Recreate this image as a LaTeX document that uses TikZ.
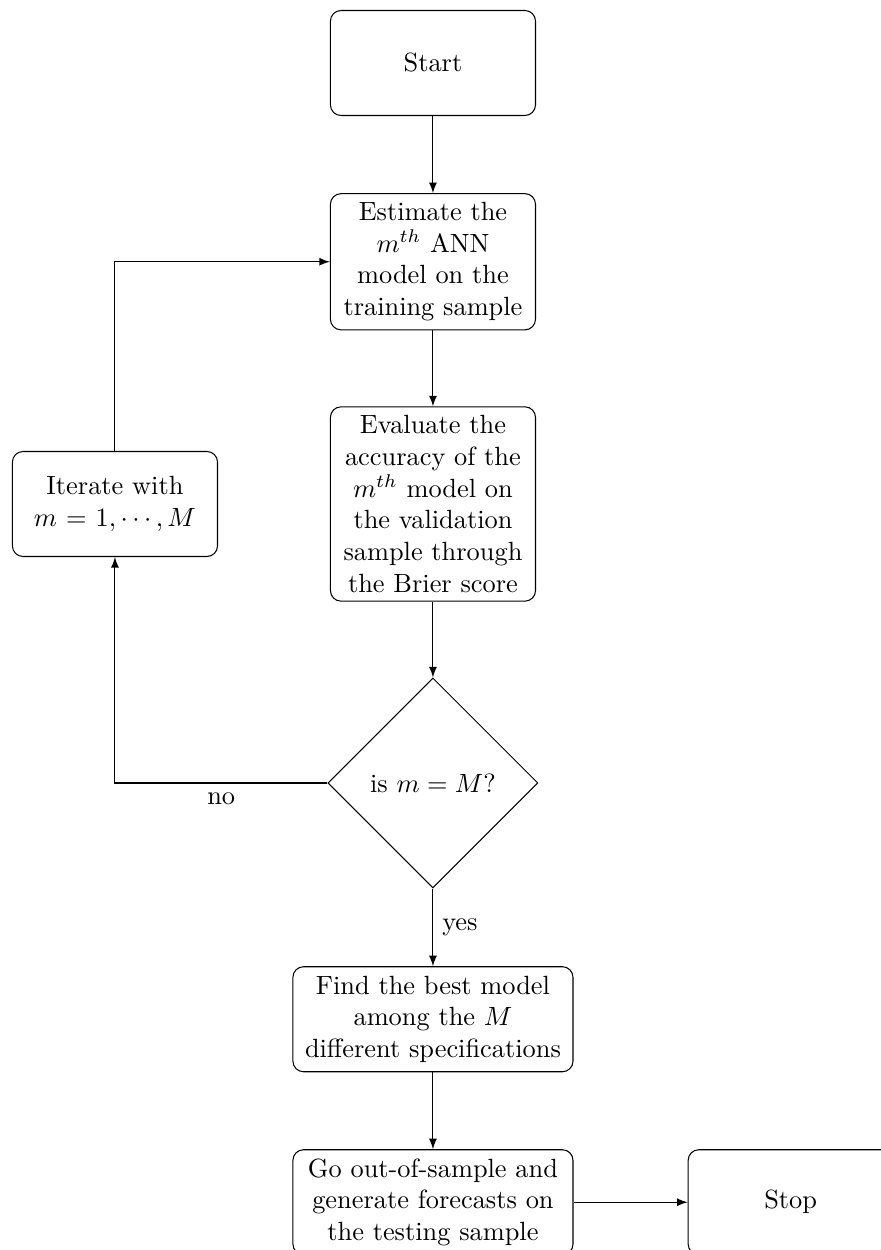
\documentclass[tikz,border=0pt]{standalone}
\usetikzlibrary{shapes.geometric}
\tikzset{
  bloque/.style={rectangle,rounded corners,draw,text width=2.5cm,minimum height=1.4cm,align=center},
  bloqueancho/.style={bloque,text width=3.5cm},
  rombo/.style={diamond,draw,aspect=1,minimum size=2.8cm,inner sep=0pt},
  flecha/.style={draw,-latex}
}
\begin{document}
\begin{tikzpicture}
        \useasboundingbox (-5.773,0.84) rectangle (5.973,-15.827);
        \node[bloque] (inicio) at (0,0) {Start};
        \node[bloque] (estimar) at (0,-2.65) {Estimate the\\ $m^{th}$ ANN\\ model on the\\ training sample};
        \node[bloque] (evaluar) at (0,-5.88) {Evaluate the\\ accuracy of the\\ $m^{th}$ model on\\ the validation\\ sample through\\ the Brier score};
        \node[bloque] (iterar) at (-4.24,-5.88) {Iterate with\\ $m=1,\cdots,M$};
        \node[rombo] (pregunta) at (0,-9.6) {is $m=M$?};
        \node[bloqueancho] (mejor) at (0,-12.75) {Find the best model\\ among the $M$\\ different specifications};
        \node[bloqueancho] (pronostico) at (0,-15.19) {Go out-of-sample and\\ generate forecasts on\\ the testing sample};
        \node[bloque] (fin) at (4.77,-15.19) {Stop};
        \draw[flecha] (inicio) -- (estimar);
        \draw[flecha] (estimar) -- (evaluar);
        \draw[flecha] (evaluar) -- (pregunta);
        \draw[flecha] (pregunta) -- node[right]{yes} (mejor);
        \draw[flecha] (mejor) -- (pronostico);
        \draw[flecha] (pronostico) -- (fin);
        \draw[flecha] (pregunta.west) -- node[below]{no} (pregunta.west -| iterar) -- (iterar);
        \draw[flecha] (iterar) |- (estimar);
    \end{tikzpicture}
\end{document}
